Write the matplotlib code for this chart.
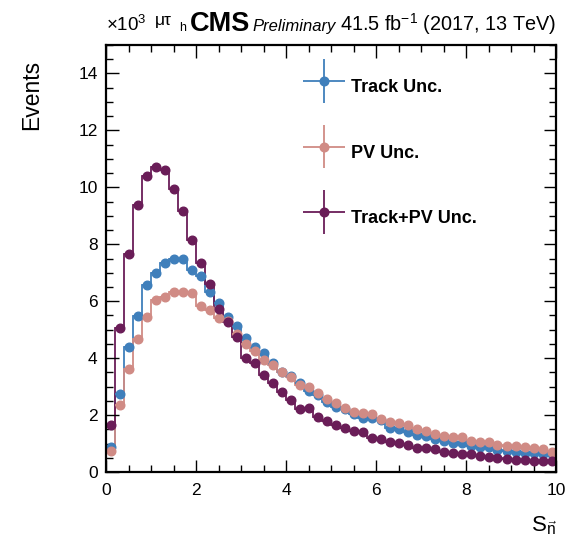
import numpy as np
import matplotlib
matplotlib.use("Agg")
import matplotlib.pyplot as plt
from matplotlib.ticker import MultipleLocator
from matplotlib.legend_handler import HandlerErrorbar
from matplotlib.container import ErrorbarContainer

plt.rcParams["font.family"] = ["Liberation Sans", "DejaVu Sans"]
plt.rcParams["mathtext.fontset"] = "custom"
plt.rcParams["mathtext.rm"] = "Liberation Sans"
plt.rcParams["mathtext.it"] = "Liberation Sans:italic"

# binning of S_n: 50 bins from 0 to 10
edges = np.linspace(0, 10, 51)
centers = 0.5 * (edges[1:] + edges[:-1])

# events per bin, in units of 10^3
track_unc = [0.88, 2.74, 4.39, 5.47, 6.56, 6.98, 7.33, 7.50, 7.50, 7.09,
             6.90, 6.32, 5.93, 5.44, 5.12, 4.70, 4.39, 4.18, 3.82, 3.50,
             3.36, 3.14, 2.84, 2.72, 2.46, 2.28, 2.20, 2.04, 1.89, 1.90,
             1.84, 1.53, 1.50, 1.39, 1.30, 1.26, 1.15, 1.10, 1.03, 1.03,
             0.92, 0.89, 0.88, 0.78, 0.73, 0.71, 0.68, 0.66, 0.63, 0.63]
pv_unc = [0.74, 2.35, 3.61, 4.67, 5.44, 6.04, 6.14, 6.32, 6.32, 6.28,
          5.84, 5.68, 5.40, 5.30, 4.84, 4.49, 4.25, 3.93, 3.75, 3.51,
          3.35, 3.04, 2.98, 2.78, 2.58, 2.42, 2.26, 2.11, 2.07, 2.05,
          1.85, 1.74, 1.71, 1.65, 1.52, 1.45, 1.33, 1.27, 1.24, 1.22,
          1.10, 1.06, 1.06, 0.95, 0.92, 0.92, 0.89, 0.83, 0.80, 0.72]
track_pv_unc = [1.65, 5.05, 7.65, 9.37, 10.40, 10.72, 10.62, 9.93, 9.18, 8.14,
                7.33, 6.60, 5.72, 5.26, 4.74, 4.00, 3.82, 3.40, 3.12, 2.80,
                2.53, 2.20, 2.25, 1.93, 1.79, 1.65, 1.54, 1.44, 1.40, 1.20,
                1.16, 1.06, 1.01, 0.94, 0.86, 0.83, 0.80, 0.72, 0.66, 0.64,
                0.63, 0.55, 0.53, 0.49, 0.46, 0.43, 0.41, 0.40, 0.39, 0.39]

series = [("Track Unc.", track_unc, "#3f7fbb"),
          ("PV Unc.", pv_unc, "#d08b85"),
          ("Track+PV Unc.", track_pv_unc, "#6a1d58")]

W, H = 569, 547
fig = plt.figure(figsize=(W / 100, H / 100), dpi=100)
ax = fig.add_axes([106 / W, 1 - 472 / H, 450 / W, 427 / H])

for label, vals, col in series:
    vals = np.array(vals)
    ax.stairs(vals, edges, color=col, lw=1.3, baseline=None)
    ax.errorbar(centers, vals, xerr=0.1, yerr=np.zeros_like(vals), fmt="o",
                color=col, ms=6.2, elinewidth=1.3, capsize=0, label=label)

ax.set_xlim(0, 10)
ax.set_ylim(0, 15)
ax.xaxis.set_major_locator(MultipleLocator(2))
ax.xaxis.set_minor_locator(MultipleLocator(0.5))
ax.yaxis.set_major_locator(MultipleLocator(2))
ax.yaxis.set_minor_locator(MultipleLocator(0.5))
ax.tick_params(which="both", direction="in", top=True, right=True,
               labelsize=12.5, width=1.0, pad=6)
ax.tick_params(axis="x", pad=8)
ax.tick_params(which="major", length=9)
ax.tick_params(which="minor", length=5)
for sp in ax.spines.values():
    sp.set_linewidth(1.6)

ax.set_ylabel("Events", fontsize=16.5, loc="top")
ax.yaxis.set_label_coords(-0.14, 0.965)
fig.text(557 / W, 1 - 531 / H, r"$\mathrm{S}_{\vec{\mathrm{n}}}$", fontsize=16,
         ha="right", va="baseline")

leg = ax.legend(loc="upper left", bbox_to_anchor=(0.438, 0.942), frameon=False,
                prop={"weight": "bold", "size": 13}, labelspacing=1.76,
                handlelength=2.3, handleheight=2.5, handletextpad=0.35,
                borderpad=0, borderaxespad=0,
                handler_map={ErrorbarContainer: HandlerErrorbar(xerr_size=1.15, yerr_size=1.2)})

# header line
ybase = 1 - 31 / H
fig.text(106 / W, ybase, r"$\times10^{3}$", fontsize=13.5, va="baseline")
fig.text(155 / W, 1 - 25 / H, "μτ", fontsize=12.5, va="baseline")
fig.text(179 / W, ybase, "h", fontsize=9, va="baseline")
fig.text(190 / W, ybase, "CMS", fontsize=19.5, fontweight="bold", va="baseline")
fig.text(252 / W, ybase, "Preliminary", fontsize=12, style="italic", va="baseline")
fig.text(556 / W, ybase, r"41.5 fb$^{-1}$ (2017, 13 TeV)", fontsize=14.3,
         ha="right", va="baseline")

fig.savefig("out.png", dpi=100)
